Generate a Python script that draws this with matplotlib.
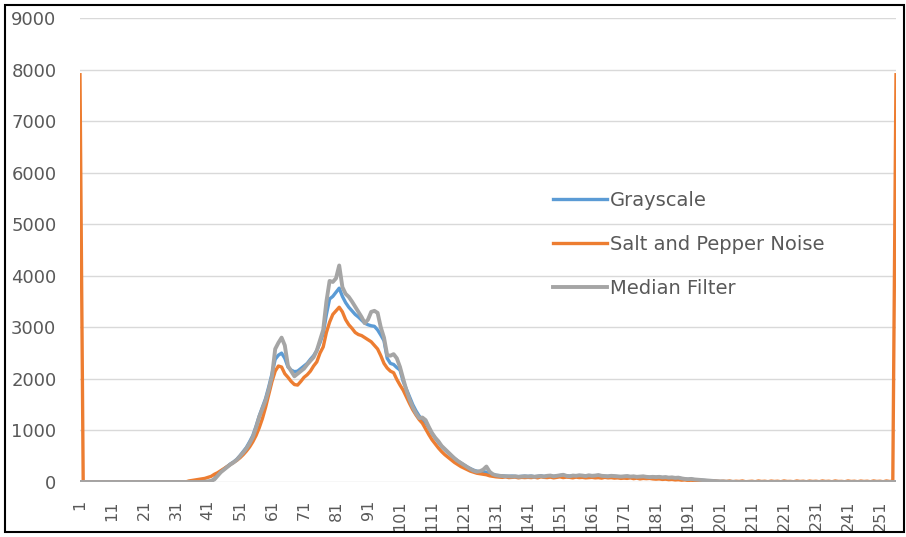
import matplotlib
matplotlib.use("Agg")
import matplotlib.pyplot as plt
from matplotlib.patches import Rectangle

plt.rcParams['font.family'] = ['DejaVu Sans']

bins = list(range(1, 257))
tick_labels = [str(b) for b in range(1, 257, 10)]

grayscale = [
    0, 0, 0, 0, 0, 0, 0, 0, 0, 0,
    0, 0, 0, 0, 0, 0, 0, 0, 0, 0,
    0, 0, 0, 0, 0, 0, 0, 0, 0, 0,
    0, 0, 0, 0, 0, 0, 0, 0, 0, 5,
    10, 20, 60, 140, 200, 250, 300, 350, 390, 440,
    510, 590, 670, 780, 900, 1080, 1280, 1450, 1620, 1850,
    2100, 2380, 2460, 2500, 2400, 2230, 2170, 2140, 2150, 2200,
    2250, 2300, 2380, 2450, 2550, 2700, 2880, 3250, 3550, 3600,
    3680, 3760, 3600, 3480, 3390, 3320, 3250, 3200, 3140, 3080,
    3050, 3030, 3020, 2950, 2850, 2740, 2400, 2300, 2280, 2220,
    2170, 1950, 1800, 1650, 1500, 1380, 1280, 1200, 1150, 1050,
    940, 850, 770, 690, 630, 570, 510, 460, 410, 370,
    330, 290, 260, 230, 210, 200, 200, 190, 170, 150,
    130, 125, 120, 115, 110, 115, 110, 105, 110, 115,
    110, 115, 105, 110, 120, 110, 115, 120, 110, 115,
    125, 130, 120, 115, 120, 115, 125, 120, 110, 120,
    115, 120, 125, 115, 110, 110, 115, 110, 105, 100,
    105, 110, 100, 105, 95, 100, 105, 95, 90, 95,
    90, 95, 85, 90, 80, 85, 75, 80, 65, 55,
    50, 55, 45, 40, 35, 30, 25, 20, 18, 12,
    10, 8, 5, 5, 3, 0, 0, 0, 0, 0,
    0, 0, 0, 0, 0, 0, 0, 0, 0, 0,
    0, 0, 0, 0, 0, 0, 0, 0, 0, 0,
    0, 0, 0, 0, 0, 0, 0, 0, 0, 0,
    0, 0, 0, 0, 0, 0, 0, 0, 0, 0,
    0, 0, 0, 0, 0, 0,
]

salt_pepper = [
    7900, 0, 0, 0, 0, 0, 0, 0, 0, 0,
    0, 0, 0, 0, 0, 0, 0, 0, 0, 0,
    0, 0, 0, 0, 0, 0, 0, 0, 0, 0,
    0, 0, 0, 0, 20, 30, 40, 50, 60, 70,
    90, 110, 150, 180, 220, 260, 300, 340, 380, 420,
    470, 530, 600, 680, 780, 900, 1050, 1230, 1450, 1700,
    1950, 2150, 2250, 2230, 2100, 2030, 1950, 1890, 1880, 1950,
    2030, 2080, 2150, 2250, 2330, 2500, 2620, 2900, 3100, 3250,
    3320, 3390, 3300, 3150, 3050, 2980, 2900, 2860, 2840, 2800,
    2760, 2720, 2650, 2580, 2450, 2300, 2210, 2150, 2120, 1990,
    1880, 1780, 1650, 1520, 1400, 1300, 1210, 1140, 1030, 920,
    820, 740, 660, 590, 530, 480, 430, 380, 340, 300,
    270, 240, 210, 190, 170, 160, 150, 140, 120, 110,
    100, 95, 90, 100, 85, 90, 95, 80, 90, 85,
    90, 85, 95, 80, 100, 90, 85, 95, 80, 90,
    100, 85, 95, 90, 80, 95, 85, 90, 80, 85,
    90, 80, 85, 75, 90, 80, 85, 75, 80, 70,
    75, 70, 80, 65, 75, 60, 70, 65, 70, 60,
    55, 60, 50, 55, 45, 50, 40, 45, 35, 40,
    30, 35, 25, 30, 20, 25, 20, 15, 20, 15,
    10, 15, 10, 20, 5, 15, 10, 20, 5, 10,
    15, 5, 20, 10, 15, 5, 18, 10, 15, 5,
    20, 10, 12, 5, 20, 10, 15, 5, 18, 10,
    15, 5, 20, 10, 15, 5, 20, 10, 12, 5,
    20, 10, 15, 5, 18, 10, 15, 5, 20, 10,
    15, 5, 20, 10, 15, 7900,
]

median_filter = [
    0, 0, 0, 0, 0, 0, 0, 0, 0, 0,
    0, 0, 0, 0, 0, 0, 0, 0, 0, 0,
    0, 0, 0, 0, 0, 0, 0, 0, 0, 0,
    0, 0, 0, 0, 0, 0, 0, 0, 0, 5,
    10, 20, 50, 120, 190, 240, 290, 340, 380, 430,
    500, 570, 650, 750, 870, 1050, 1260, 1420, 1580, 1800,
    2050, 2580, 2700, 2800, 2650, 2250, 2150, 2050, 2100, 2150,
    2200, 2280, 2350, 2420, 2550, 2750, 2950, 3500, 3900, 3880,
    3950, 4200, 3780, 3650, 3590, 3500, 3400, 3300, 3200, 3080,
    3150, 3300, 3320, 3280, 3000, 2800, 2460, 2450, 2480, 2400,
    2230, 2000, 1780, 1600, 1450, 1330, 1240, 1250, 1200, 1070,
    950, 860, 790, 700, 640, 580, 520, 460, 410, 370,
    330, 290, 250, 220, 200, 210, 240, 300, 200, 150,
    130, 120, 115, 110, 110, 105, 110, 100, 105, 110,
    105, 110, 100, 110, 115, 105, 120, 125, 110, 120,
    130, 140, 120, 110, 125, 120, 130, 125, 115, 130,
    120, 125, 135, 120, 115, 110, 120, 115, 110, 105,
    110, 115, 105, 110, 100, 105, 110, 100, 95, 100,
    95, 100, 90, 95, 85, 90, 80, 85, 70, 60,
    55, 60, 50, 45, 40, 35, 30, 25, 20, 15,
    10, 10, 5, 5, 5, 0, 0, 0, 0, 0,
    0, 0, 0, 0, 0, 0, 0, 0, 0, 0,
    0, 0, 0, 0, 0, 0, 0, 0, 0, 0,
    0, 0, 0, 0, 0, 0, 0, 0, 0, 0,
    0, 0, 0, 0, 0, 0, 0, 0, 0, 0,
    0, 0, 0, 0, 0, 0,
]

series_names = ["Grayscale", "Salt and Pepper Noise", "Median Filter"]
colors = ["#5B9BD5", "#ED7D31", "#A5A5A5"]
widths = [2.4, 2.4, 2.8]

W, H = 906, 537
fig = plt.figure(figsize=(W / 100, H / 100), dpi=100)
ax = fig.add_axes([80 / W, 1 - 482 / H, (896 - 80) / W, (482 - 18) / H])

for name, vals, c, lw in zip(series_names, [grayscale, salt_pepper, median_filter], colors, widths):
    ax.plot(bins, vals, color=c, lw=lw, label=name, solid_joinstyle='round')

ax.set_xlim(1, 256)
ax.set_ylim(0, 9000)
ax.set_yticks(range(0, 9001, 1000))
ax.set_xticks(range(1, 257, 10))
ax.set_xticklabels(tick_labels, rotation=90, va='top', ha='center')
ax.grid(axis='y', color='#D9D9D9', lw=1)
ax.set_axisbelow(True)
for s in ax.spines.values():
    s.set_visible(False)
ax.tick_params(axis='both', length=0, colors='#595959')
ax.tick_params(axis='y', labelsize=13, pad=17)
ax.tick_params(axis='x', labelsize=11.5, pad=13)

leg = ax.legend(loc='upper left', bbox_to_anchor=(553 / W, 1 - 190.5 / H),
                bbox_transform=fig.transFigure, frameon=False, fontsize=14,
                handlelength=2.8, handletextpad=0.15, labelspacing=1.29,
                borderpad=0, borderaxespad=0)
for t in leg.get_texts():
    t.set_color('#595959')

fig.patches.append(Rectangle((5 / W, 1 - 532 / H), (904 - 5) / W, (532 - 5) / H,
                             transform=fig.transFigure, fill=False,
                             edgecolor='black', lw=1.5))

fig.savefig("out.png", dpi=100)
